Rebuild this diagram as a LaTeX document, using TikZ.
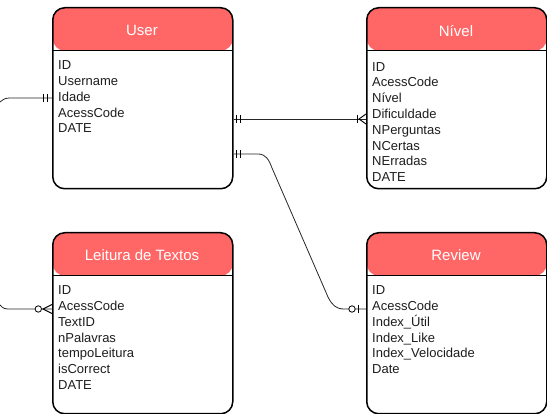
\documentclass[tikz,border=0pt]{standalone}
\usepackage{fontspec}
\setmainfont{Liberation Sans}
\usetikzlibrary{calc}
\definecolor{hdr}{RGB}{255,102,102}
\definecolor{txt}{RGB}{30,30,30}
\tikzset{
  entity/.style={draw=black, line width=1.5pt, rounded corners=12pt, fill=white,
    minimum width=180pt, minimum height=181pt, anchor=north west, inner sep=0pt,
    path picture={
      \fill[hdr] (path picture bounding box.north west) rectangle ([yshift=-43pt]path picture bounding box.north east);
      \draw[line width=1.1pt] ([yshift=-43pt]path picture bounding box.north west) -- ([yshift=-43pt]path picture bounding box.north east);
    }},
  title/.style={text=white, font=\fontsize{15}{18}\selectfont, inner sep=0pt},
  field/.style={text=txt, font=\fontsize{13}{15.8}\selectfont, anchor=base west, inner sep=0pt},
  conn/.style={draw=black!85, line width=0.8pt},
  tickmark/.style={draw=black, line width=0.9pt},
  ring/.style={draw=black, line width=0.8pt, fill=white},
}
\begin{document}
\begin{tikzpicture}[x=1pt,y=-1pt]
\useasboundingbox (0,0) rectangle (547,414);
% entities
\node[entity] (user) at (52,7) {};
\node[entity] (niv) at (366,7) {};
\node[entity] (leit) at (52,232) {};
\node[entity] (rev) at (366,232) {};
% titles
\node[title] (user-t) at (142,30) {User};
\node[title] (niv-t) at (456,31) {Nível};
\node[title] (leit-t) at (142,255) {Leitura de Textos};
\node[title] (rev-t) at (456,255) {Review};
% fields
\foreach \t [count=\i] in {ID,Username,Idade,AcessCode,DATE}
  \node[field] (user-f\i) at (58,{69.8+15.8*(\i-1)}) {\t};
\foreach \t [count=\i] in {ID,AcessCode,Nível,Dificuldade,NPerguntas,NCertas,NErradas,DATE}
  \node[field] (niv-f\i) at (372,{71.2+15.8*(\i-1)}) {\t};
\foreach \t [count=\i] in {ID,AcessCode,TextID,nPalavras,tempoLeitura,isCorrect,DATE}
  \node[field] (leit-f\i) at (58,{294.8+15.8*(\i-1)}) {\t};
\foreach \t [count=\i] in {ID,AcessCode,Index\_Útil,Index\_Like,Index\_Velocidade,Date}
  \node[field] (rev-f\i) at (372,{294.8+15.8*(\i-1)}) {\t};
% connector endpoints
\coordinate (c1) at (0,102);
\coordinate (uL) at ($(user.north west)+(0,91)$);
\coordinate (uR1) at ($(user.north east)+(0,112)$);
\coordinate (nL) at ($(niv.north west)+(0,112)$);
\coordinate (uR2) at ($(user.north east)+(0,147)$);
\coordinate (rL) at ($(rev.north west)+(0,77)$);
\coordinate (c4) at (0,305);
\coordinate (lL) at ($(leit.north west)+(0,77)$);
% connector 1: off-frame -> User (mandatory one)
\draw[conn] (c1) .. controls (5,98) .. (14,98) -- (uL);
\draw[tickmark] ($(uL)+(-9,-4)$) -- ++(0,8) ($(uL)+(-5,-4)$) -- ++(0,8);
% connector 2: User -> Nivel (one to many)
\draw[conn] (uR1) -- (nL);
\draw[tickmark] ($(uR1)+(3,-4)$) -- ++(0,8) ($(uR1)+(7,-4)$) -- ++(0,8);
\draw[tickmark] ($(nL)+(-9,-4)$) -- ++(0,8);
\draw[tickmark] ($(nL)+(0,-5)$) -- ($(nL)+(-7,0)$) -- ($(nL)+(0,5)$);
% connector 3: User -> Review (one to zero-or-one)
\draw[conn] (uR2) -- (258,154) .. controls (266,154) and (269,160) .. (272,168)
  -- (328,297) .. controls (332,305) and (336,309) .. (344,309) -- (rL);
\draw[tickmark] ($(uR2)+(3,-4)$) -- ++(0,8) ($(uR2)+(7,-4)$) -- ++(0,8);
\draw[tickmark] ($(rL)+(-8,-4)$) -- ++(0,8);
\draw[ring] ($(rL)+(-14,0)$) circle (3.2);
% connector 4: off-frame -> Leitura (zero or many)
\draw[conn] (c4) .. controls (4,309) .. (12,309) -- (lL);
\draw[tickmark] ($(lL)+(0,-4.5)$) -- ($(lL)+(-9,0)$) -- ($(lL)+(0,4.5)$);
\draw[ring] ($(lL)+(-13.7,0)$) circle (3.2);
\end{tikzpicture}
\end{document}
